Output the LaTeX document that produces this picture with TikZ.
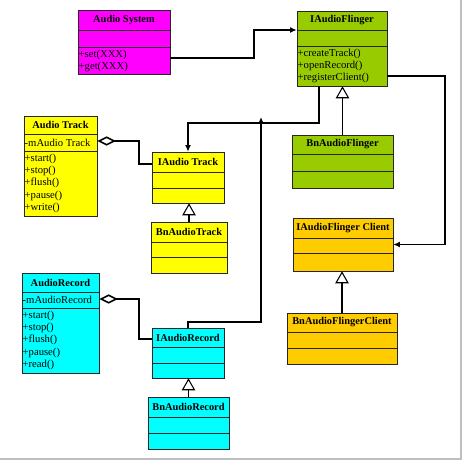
\documentclass[tikz,border=0pt]{standalone}
\usepackage{fontspec}
\setmainfont{Liberation Serif}
\usetikzlibrary{arrows.meta,fit}

\definecolor{sysmagenta}{HTML}{FF00FF}
\definecolor{flingergreen}{HTML}{99CC00}
\definecolor{trackyellow}{HTML}{FFFF00}
\definecolor{recordcyan}{HTML}{00FFFF}
\definecolor{clientgold}{HTML}{FFCC00}

\tikzset{
  classline/.style={draw=black!85, line width=0.7pt},
  title/.style={font=\fontsize{7.8}{9}\selectfont\bfseries, inner sep=0pt},
  member/.style={font=\fontsize{8}{9.2}\selectfont, inner xsep=0.5pt, inner ysep=2pt, align=left, anchor=north west},
  assoc/.style={line width=1.2pt, -{Latex[length=5pt,width=4.5pt]}},
  aggr/.style={line width=1.2pt, {Diamond[open,fill=white,length=14pt,width=7pt,line width=1.2pt]}-},
  inherit/.style={line width=1.4pt, -{Triangle[open,fill=white,length=9pt,width=10pt,line width=0.8pt]}}
}

% class box: name, colour, x1, y1, x2, y2, first and second separator, title
\newcommand{\classbox}[9]{%
  \draw[classline, fill=#2] (#3,#4) rectangle (#5,#6);
  \draw[classline] (#3,#7) -- (#5,#7) (#3,#8) -- (#5,#8);
  \node[inner sep=0pt, fit={(#3,#4) (#5,#6)}] (#1) {};
  \node[title] (#1-t) at ({(#3+#5)/2},{(#4+#7)/2}) {#9};
}

\begin{document}
\begin{tikzpicture}[x=0.75pt, y=-0.75pt]
\useasboundingbox (0,0) rectangle (464,461);
\draw[black!25, line width=0.8pt] (461,0) -- (461,459) -- (0,459);

% classes
\classbox{AudioSystem}{sysmagenta}{78}{10}{170}{74}{30}{47}{Audio System}
\classbox{IAudioFlinger}{flingergreen}{297}{11}{387}{86}{30}{46}{IAudioFlinger}
\classbox{BnAudioFlinger}{flingergreen}{292}{135}{393}{188}{154}{171}{BnAudioFlinger}
\classbox{AudioTrack}{trackyellow}{24}{116}{97}{216}{134}{151}{Audio Track}
\classbox{IAudioTrack}{trackyellow}{152}{152}{224}{203}{172}{188}{IAudio Track}
\classbox{BnAudioTrack}{trackyellow}{151}{222}{227}{273}{242}{257}{BnAudioTrack}
\classbox{IAudioFlingerClient}{clientgold}{293}{218}{393}{271}{238}{253}{IAudioFlinger Client}
\classbox{BnAudioFlingerClient}{clientgold}{287}{313}{397}{364}{332}{348}{BnAudioFlingerClient}
\classbox{AudioRecord}{recordcyan}{22}{273}{99}{373}{292}{308}{AudioRecord}
\classbox{IAudioRecord}{recordcyan}{152}{328}{224}{378}{347}{363}{IAudioRecord}
\classbox{BnAudioRecord}{recordcyan}{148}{397}{229}{449}{417}{433}{BnAudioRecord}

% members
\node[member] (AudioSystem-m) at (AudioSystem.west |- 0,47) {+set(XXX)\\+get(XXX)};
\node[member] (IAudioFlinger-m) at (IAudioFlinger.west |- 0,46) {+createTrack()\\+openRecord()\\+registerClient()};
\node[member, anchor=west] (AudioTrack-a) at (AudioTrack.west |- 0,142.5) {-mAudio Track};
\node[member] (AudioTrack-m) at (AudioTrack.west |- 0,151) {+start()\\+stop()\\+flush()\\+pause()\\+write()};
\node[member, anchor=west] (AudioRecord-a) at (AudioRecord.west |- 0,300) {-mAudioRecord};
\node[member] (AudioRecord-m) at (AudioRecord.west |- 0,308) {+start()\\+stop()\\+flush()\\+pause()\\+read()};

% associations
\draw[assoc] (AudioSystem.east |- 0,58) -- (254,58) |- (IAudioFlinger.west |- 0,30);
\draw[assoc] (IAudioFlinger.south -| 319,0) |- (IAudioTrack.north |- 0,123) -- (IAudioTrack.north);
\draw[assoc] (IAudioFlinger.east |- 0,76) -- (445,76) |- (IAudioFlingerClient.east);
\coordinate (recTip) at (261,117);
\draw[assoc, {Latex[length=5pt,width=4.5pt]}-] (recTip) -- (261,322) -| (IAudioRecord.north);

% aggregations
\draw[aggr] (AudioTrack.east |- 0,141) -- (139,141) |- (IAudioTrack.west |- 0,164);
\draw[aggr] (AudioRecord.east |- 0,299) -- (139,299) |- (IAudioRecord.west |- 0,339);

% inheritance
\draw[inherit] (BnAudioFlinger.north) -- (BnAudioFlinger.north |- IAudioFlinger.south);
\draw[inherit] (BnAudioTrack.north) -- (BnAudioTrack.north |- IAudioTrack.south);
\draw[inherit] (BnAudioFlingerClient.north) -- (BnAudioFlingerClient.north |- IAudioFlingerClient.south);
\draw[inherit] (BnAudioRecord.north) -- (BnAudioRecord.north |- IAudioRecord.south);
\end{tikzpicture}
\end{document}
